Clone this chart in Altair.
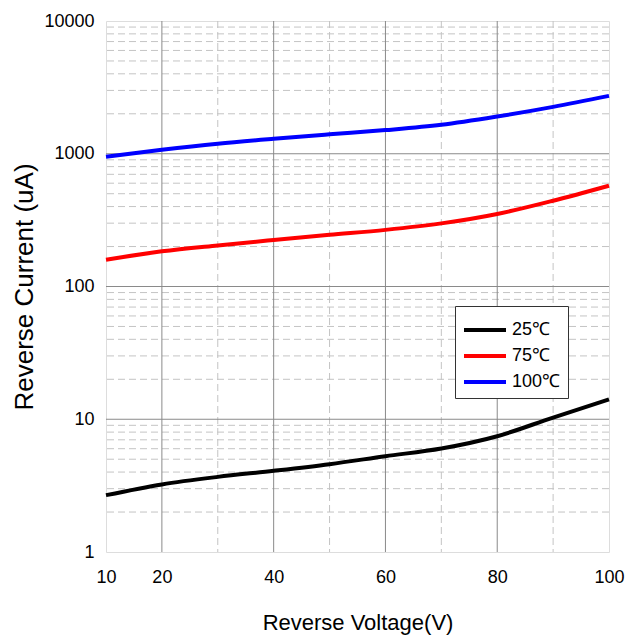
import altair as alt
import pandas as pd

voltage = [10, 20, 30, 40, 50, 60, 70, 80, 90, 100]
i_25 = [2.68, 3.23, 3.68, 4.09, 4.59, 5.27, 6.02, 7.45, 10.3, 14.1]
i_75 = [159, 184, 204, 224, 245, 267, 299, 352, 443, 575]
i_100 = [949, 1071, 1190, 1296, 1400, 1507, 1652, 1907, 2256, 2730]
series = ["25℃", "75℃", "100℃"]
colors = ["#000000", "#ff0000", "#0000ff"]

x_major = [20, 40, 60, 80]
x_minor = [30, 50, 70, 90]
y_major = [10, 100, 1000]
y_minor = [m * d for d in [1, 10, 100, 1000] for m in range(2, 10)]
x_ticks = [10, 20, 40, 60, 80, 100]
y_ticks = [1, 10, 100, 1000, 10000]

rows = []
for name, vals in zip(series, [i_25, i_75, i_100]):
    for v, c in zip(voltage, vals):
        rows.append({"V": v, "I": c, "T": name})
df = pd.DataFrame(rows)

FONT = "Liberation Sans, Arial"

xscale = alt.Scale(domain=[10, 100], nice=False, zero=False)
yscale = alt.Scale(type="log", domain=[1, 10000], nice=False)

ymin_layer = alt.Chart(pd.DataFrame({"y": y_minor})).mark_rule(
    color="#c4c4c4", strokeWidth=1, strokeDash=[7, 4]
).encode(y=alt.Y("y:Q", scale=yscale))
xmin_layer = alt.Chart(pd.DataFrame({"x": x_minor})).mark_rule(
    color="#c4c4c4", strokeWidth=1, strokeDash=[7, 4]
).encode(x=alt.X("x:Q", scale=xscale))
ymaj_layer = alt.Chart(pd.DataFrame({"y": y_major})).mark_rule(
    color="#8a8a8a", strokeWidth=1
).encode(y=alt.Y("y:Q", scale=yscale))
xmaj_layer = alt.Chart(pd.DataFrame({"x": x_major})).mark_rule(
    color="#8a8a8a", strokeWidth=1
).encode(x=alt.X("x:Q", scale=xscale))

lines = alt.Chart(df).mark_line(strokeWidth=4, interpolate="monotone").encode(
    x=alt.X(
        "V:Q",
        scale=xscale,
        axis=alt.Axis(
            values=x_ticks, grid=False, ticks=False, domain=False,
            labelFlush=False, labelOverlap=False,
            title="Reverse Voltage(V)", titleFont=FONT, titleFontSize=22,
            titleFontWeight="normal", titleColor="#000", titlePadding=26,
            labelFont=FONT, labelFontSize=18, labelColor="#000", labelPadding=16,
        ),
    ),
    y=alt.Y(
        "I:Q",
        scale=yscale,
        axis=alt.Axis(
            values=y_ticks, grid=False, ticks=False, domain=False, format="d",
            labelFlush=False, labelOverlap=False,
            title="Reverse Current (uA)", titleFont=FONT, titleFontSize=26,
            titleFontWeight="normal", titleColor="#000", titlePadding=6,
            labelFont=FONT, labelFontSize=18, labelColor="#000", labelPadding=12,
        ),
    ),
    color=alt.Color(
        "T:N",
        scale=alt.Scale(domain=series, range=colors),
        sort=series,
        legend=alt.Legend(
            title=None, orient="none", legendX=349, legendY=285,
            fillColor="#ffffff", strokeColor="#333333", padding=7,
            symbolType="M-1,0H1.8", symbolStrokeWidth=4, symbolSize=900,
            labelFont=FONT, labelFontSize=18, labelColor="#000",
            rowPadding=0, labelOffset=16,
        ),
    ),
)

chart = alt.layer(ymin_layer, xmin_layer, ymaj_layer, xmaj_layer, lines).properties(
    width=503, height=531,
    autosize=alt.AutoSizeParams(type="none"),
    padding={"left": 98, "top": 13, "right": 20, "bottom": 86},
).configure_view(stroke="#222222", strokeWidth=2).configure(background="#ffffff")

chart.save("out.html", embed_options={"renderer": "svg", "actions": False})
